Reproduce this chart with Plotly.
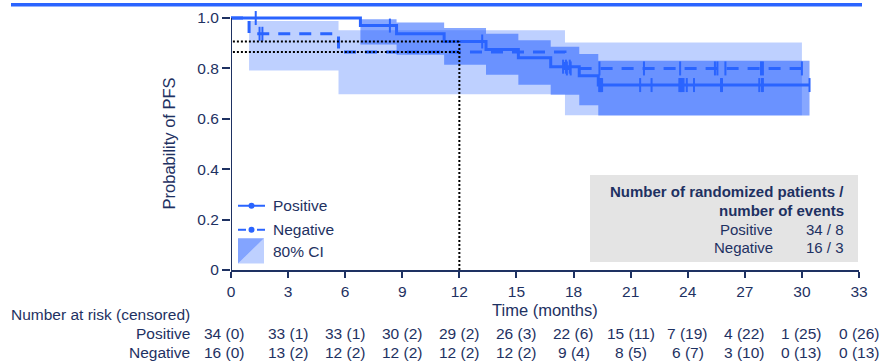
import numpy as np
import plotly.graph_objects as go

# ---- Kaplan-Meier estimates (step points) ----
pos_event_t = [6.8, 8.7, 11.2, 13.4, 15.1, 16.8, 18.3, 19.3]
pos_surv = [0.970, 0.938, 0.907, 0.875, 0.842, 0.807, 0.771, 0.734]
pos_lower = [0.895, 0.854, 0.815, 0.775, 0.735, 0.696, 0.654, 0.613]
pos_upper = [0.995, 0.982, 0.960, 0.938, 0.912, 0.886, 0.857, 0.830]
pos_end = 30.4
pos_censor_t = [1.3, 8.35, 13.2, 17.45, 17.6, 17.8, 19.35, 19.38, 19.42, 19.45, 19.5,
                21.5, 22.1, 23.56, 23.62, 23.66, 23.72, 23.78, 23.95, 24.33, 25.75,
                25.8, 27.76, 27.9, 27.95, 30.4]

neg_event_t = [0.95, 5.65, 17.55]
neg_surv = [0.9375, 0.865, 0.800]
neg_lower = [0.792, 0.698, 0.614]
neg_upper = [0.988, 0.952, 0.903]
neg_end = 30.0
neg_censor_t = [1.5, 1.65, 17.65, 17.85, 19.36, 21.7, 23.6, 25.43, 25.56, 25.98,
                27.85, 27.95, 30.0]

landmark_t = 12

# ---- risk table ----
risk_times = [0, 3, 6, 9, 12, 15, 18, 21, 24, 27, 30, 33]
pos_at_risk = ["34 (0)", "33 (1)", "33 (1)", "30 (2)", "29 (2)", "26 (3)", "22 (6)",
               "15 (11)", "7 (19)", "4 (22)", "1 (25)", "0 (26)"]
neg_at_risk = ["16 (0)", "13 (2)", "12 (2)", "12 (2)", "12 (2)", "12 (2)", "9 (4)",
               "8 (5)", "6 (7)", "3 (10)", "0 (13)", "0 (13)"]

groups = ["Positive", "Negative"]
n_patients = [34, 16]
n_events = [8, 3]

y_tick_vals = [0, 0.2, 0.4, 0.6, 0.8, 1.0]
y_tick_text = ["0", "0.2", "0.4", "0.6", "0.8", "1.0"]

# ---- styling ----
BLUE = "#2a64ff"
NAVY = "#1e3162"
FONT = "Liberation Sans, Arial, sans-serif"
NEG_FILL = "rgba(41,98,255,0.30)"
POS_FILL = "rgba(41,98,255,0.56)"

W, H = 880, 364
L, R, T, B = 231, 21, 10, 94
PW, PH = W - L - R, H - T - B


def px_x(px):
    return (px - L) / PW


def px_y(py):
    return (T + PH - py) / PH


def step_value(t, times, surv):
    idx = np.searchsorted(np.asarray(times), t, side="right")
    return 1.0 if idx == 0 else surv[idx - 1]


def band_polygon(times, lo, hi, end):
    nxt = list(times[1:]) + [end]
    xs, ys = [], []
    for a, b, h in zip(times, nxt, hi):
        xs += [a, b]
        ys += [h, h]
    for a, b, l in reversed(list(zip(times, nxt, lo))):
        xs += [b, a]
        ys += [l, l]
    return xs + [xs[0]], ys + [ys[0]]


fig = go.Figure()

# confidence bands
nx, ny = band_polygon(neg_event_t, neg_lower, neg_upper, neg_end)
fig.add_trace(go.Scatter(x=nx, y=ny, fill="toself", fillcolor=NEG_FILL,
                         line=dict(width=0), mode="lines", hoverinfo="skip"))
px_, py_ = band_polygon(pos_event_t, pos_lower, pos_upper, pos_end)
fig.add_trace(go.Scatter(x=px_, y=py_, fill="toself", fillcolor=POS_FILL,
                         line=dict(width=0), mode="lines", hoverinfo="skip"))

# survival curves
fig.add_trace(go.Scatter(x=[0] + neg_event_t + [neg_end],
                         y=[1.0] + neg_surv + [neg_surv[-1]],
                         mode="lines", line=dict(color=BLUE, width=3, dash="12px,9px", shape="hv")))
fig.add_trace(go.Scatter(x=[0] + pos_event_t + [pos_end],
                         y=[1.0] + pos_surv + [pos_surv[-1]],
                         mode="lines", line=dict(color=BLUE, width=3, shape="hv")))

# censoring marks
for ct, times, surv in [(neg_censor_t, neg_event_t, neg_surv),
                        (pos_censor_t, pos_event_t, pos_surv)]:
    fig.add_trace(go.Scatter(
        x=ct, y=[step_value(t, times, surv) for t in ct], mode="markers",
        marker=dict(symbol="line-ns", size=10, line=dict(color=BLUE, width=2)),
        cliponaxis=False))

# landmark reference lines at 12 months
s_pos12 = step_value(landmark_t, pos_event_t, pos_surv)
s_neg12 = step_value(landmark_t, neg_event_t, neg_surv)
dot = dict(color="black", width=2, dash="2px,2px")
for s in (s_pos12, s_neg12):
    fig.add_trace(go.Scatter(x=[0.1, landmark_t], y=[s, s], mode="lines", line=dot))
fig.add_trace(go.Scatter(x=[landmark_t, landmark_t], y=[0, s_pos12], mode="lines", line=dot))

shapes = []
# y axis line (0 to 1)
shapes.append(dict(type="line", xref="x", yref="y", x0=0, x1=0, y0=0, y1=1.0,
                   line=dict(color=NAVY, width=2)))
# top rule
shapes.append(dict(type="rect", xref="paper", yref="paper", x0=px_x(11), x1=px_x(862),
                   y0=px_y(3.5), y1=px_y(0), fillcolor=BLUE, line=dict(width=0), layer="above"))
# summary box
shapes.append(dict(type="rect", xref="paper", yref="paper", x0=px_x(590), x1=px_x(858),
                   y0=px_y(262), y1=px_y(174), fillcolor="#e4e4e4", line=dict(width=0),
                   layer="below"))

# legend glyphs
ly_pos, ly_neg = 205, 229.3
shapes.append(dict(type="line", xref="paper", yref="paper", x0=px_x(238), x1=px_x(265),
                   y0=px_y(ly_pos), y1=px_y(ly_pos), line=dict(color=BLUE, width=2)))
for xa, xb in [(238, 246), (257, 265)]:
    shapes.append(dict(type="line", xref="paper", yref="paper", x0=px_x(xa), x1=px_x(xb),
                       y0=px_y(ly_neg), y1=px_y(ly_neg), line=dict(color=BLUE, width=2)))
for ly in (ly_pos, ly_neg):
    shapes.append(dict(type="circle", xref="paper", yref="paper",
                       x0=px_x(248.5), x1=px_x(254.5), y0=px_y(ly + 3), y1=px_y(ly - 3),
                       fillcolor=BLUE, line=dict(width=0)))
il, ir, it, ib = 238, 264, 238, 263.5
shapes.append(dict(type="path", xref="paper", yref="paper",
                   path=f"M{px_x(il)},{px_y(it)} L{px_x(ir)},{px_y(it)} L{px_x(il)},{px_y(ib)} Z",
                   fillcolor="rgba(41,98,255,0.58)", line=dict(width=0)))
shapes.append(dict(type="path", xref="paper", yref="paper",
                   path=f"M{px_x(ir)},{px_y(it)} L{px_x(ir)},{px_y(ib)} L{px_x(il)},{px_y(ib)} Z",
                   fillcolor=NEG_FILL, line=dict(width=0)))

ann = []


def text(x, y, s, anchor="center", size=15, bold=False, xref="paper", xshift=0, **kw):
    ann.append(dict(x=x, y=y, xref=xref, yref="paper", text=f"<b>{s}</b>" if bold else s,
                    showarrow=False, xanchor=anchor, yanchor="middle", xshift=xshift,
                    font=dict(family=FONT, size=size, color=NAVY), **kw))


# legend labels
text(px_x(271), px_y(ly_pos), groups[0], anchor="left", size=15.5)
text(px_x(271), px_y(ly_neg), groups[1], anchor="left", size=15.5)
text(px_x(271), px_y(251.5), "80% CI", anchor="left", size=15.5)

# summary box text
text(px_x(846), px_y(190.5), "Number of randomized patients /", anchor="right", bold=True)
text(px_x(846), px_y(210), "number of events", anchor="right", bold=True)
for g, n, e, yy in zip(groups, n_patients, n_events, (229, 247.5)):
    text(px_x(775), px_y(yy), g, anchor="right")
    text(px_x(846), px_y(yy), f"{n} / {e}", anchor="right")

# axis titles
text(0.5, px_y(310), "Time (months)", size=16.5)
ann.append(dict(x=px_x(168.5), y=0.5 * (px_y(15) + px_y(270)), xref="paper", yref="paper",
                text="Probability of PFS", showarrow=False, textangle=-90,
                xanchor="center", yanchor="middle",
                font=dict(family=FONT, size=16.5, color=NAVY)))

# risk table
text(px_x(192), px_y(315), "Number at risk (censored)", anchor="right", size=15.5)
for g, row, yy in zip(groups, (pos_at_risk, neg_at_risk), (334, 353)):
    text(px_x(192), px_y(yy), g, anchor="right", size=15.5)
    for t, s in zip(risk_times, row):
        text(t, px_y(yy), s, xref="x", xshift=-7 if t == 0 else 0, size=15.5)

fig.update_layout(
    width=W, height=H, margin=dict(l=L, r=R, t=T, b=B),
    paper_bgcolor="white", plot_bgcolor="white", showlegend=False,
    font=dict(family=FONT, size=15, color=NAVY),
    shapes=shapes, annotations=ann,
    xaxis=dict(range=[0, 33], tickvals=risk_times, ticks="outside", ticklen=6, tickwidth=2,
               tickcolor=NAVY, showline=True, linecolor=NAVY, linewidth=2, showgrid=False,
               zeroline=False, tickfont=dict(size=15.5, color=NAVY)),
    yaxis=dict(range=[0, 1.02], tickvals=y_tick_vals, ticktext=y_tick_text, ticks="outside",
               ticklen=8, tickwidth=2, tickcolor=NAVY, showline=False, showgrid=False,
               zeroline=False, tickfont=dict(size=15.5, color=NAVY)),
)

fig.write_html("out.html")
